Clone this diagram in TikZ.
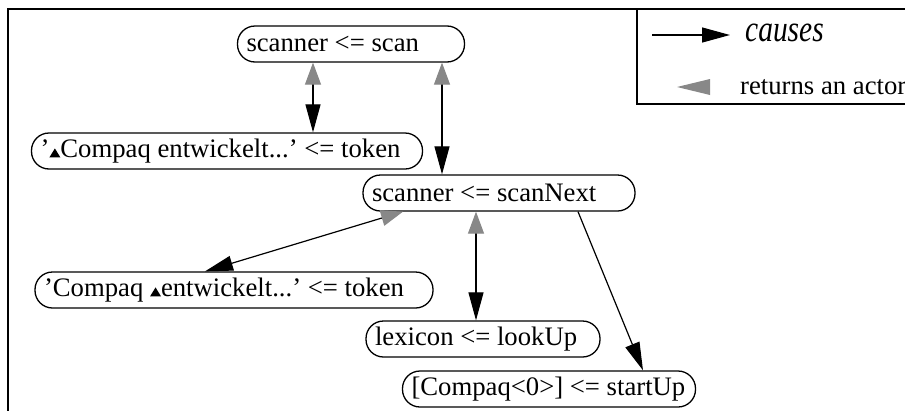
\documentclass[tikz,border=0pt]{standalone}
\usepackage{fontspec}
\usepackage{graphicx}
\setmainfont{Liberation Serif}
\usetikzlibrary{arrows.meta}
\definecolor{retgray}{RGB}{136,136,136}
\frenchspacing
% small black marker used inside the token strings
\newcommand{\posmark}{\tikz[baseline=0pt,x=1pt,y=1pt,sharp corners]\fill (0,0) -- (5.5,9) -- (11,0) -- cycle;}
% label set flush left in a box of fixed width
\newcommand{\lbl}[2]{\makebox[#1][l]{#2}}
\begin{document}
\begin{tikzpicture}[x=1pt,y=-1pt,
  actor/.style={draw, line width=1.3pt, rounded corners=17.5pt, minimum height=36pt,
    inner xsep=9pt, inner ysep=1pt,
    font=\fontsize{26.7}{30}\selectfont},
  causes/.style={line width=1.2pt, -{Triangle[length=28pt,width=15pt]}},
  both/.style={line width=1.2pt,
    {Triangle[length=22pt,width=16pt,color=retgray]}-{Triangle[length=28pt,width=15pt]}},
  frame/.style={line width=1.4pt}]
\clip (0,0) rectangle (905,410);

% outer frame and legend box
\draw[frame] (8,9) rectangle (930,430);
\draw[frame] (637,9) rectangle (930,104);

% legend
\node[anchor=west, inner sep=0pt, font=\fontsize{31}{36}\selectfont\itshape] (lcauses) at (745,33) {\scalebox{0.95}[1.2]{causes}};
\coordinate (lstart) at (652,35);
\draw[causes, shorten >=15pt] (lstart) -- (lcauses.west |- lstart);
\node[anchor=west, inner sep=0pt, font=\fontsize{26.7}{30}\selectfont] (lreturns) at (740,87) {returns an actor};
\fill[retgray] (677,87) -- (710,79) -- (710,95) -- cycle;

% actors
\node[actor] (scan)    at (351,44)  {\lbl{209pt}{scanner <= scan}};
\node[actor] (tok1)    at (227,151) {\lbl{373pt}{'\posmark Compaq entwickelt...' <= token}};
\node[actor] (scnext)  at (499,193) {\lbl{254pt}{scanner <= scanNext}};
\node[actor] (tok2)    at (234,290) {\lbl{380pt}{'Compaq \posmark entwickelt...' <= token}};
\node[actor] (lexicon) at (483,339) {\lbl{216pt}{lexicon <= lookUp}};
\node[actor] (startup) at (549,389) {\lbl{275pt}{[Compaq<0>] <= startUp}};

% messages
\draw[both]   (313,0 |- scan.south)   -- (313,0 |- tok1.north);
\draw[both]   (442,0 |- scan.south)   -- (442,0 |- scnext.north);
\draw[both]   (403,0 |- scnext.south) -- (205,0 |- tok2.north);
\draw[both]   (476,0 |- scnext.south) -- (476,0 |- lexicon.north);
\draw[causes] (578,0 |- scnext.south) -- (643,0 |- startup.north);
\end{tikzpicture}
\end{document}
